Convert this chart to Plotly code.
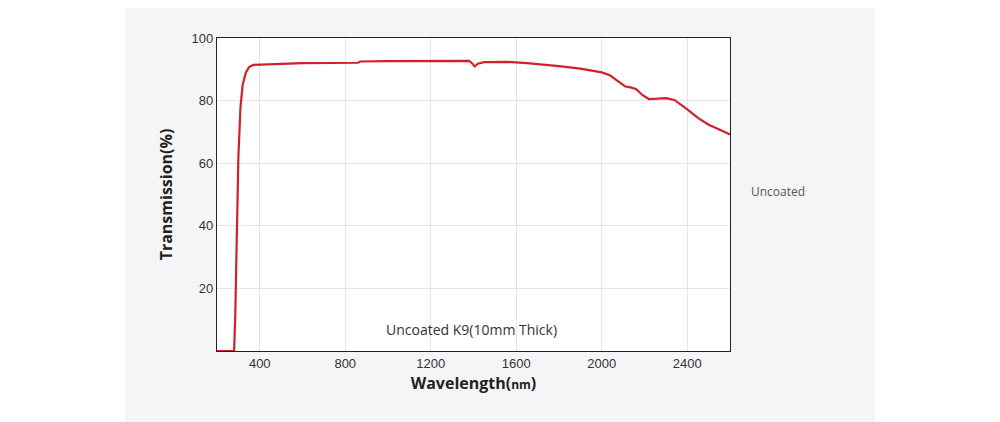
import plotly.graph_objects as go

wavelength = [200, 280, 285, 292, 300, 310, 320, 335, 350, 370, 400, 500, 600, 860, 870, 1000, 1200, 1380, 1395, 1405, 1420, 1450, 1550, 1650, 1800, 1900, 2000, 2040, 2080, 2110, 2130, 2160, 2190, 2220, 2260, 2300, 2340, 2370, 2400, 2450, 2500, 2550, 2600]
transmission = [0, 0, 10, 35, 62, 78, 85, 89, 90.7, 91.4, 91.5, 91.8, 92, 92.1, 92.5, 92.6, 92.7, 92.7, 91.8, 90.9, 91.8, 92.3, 92.4, 92.0, 91.0, 90.2, 89.0, 88.0, 86.0, 84.5, 84.3, 83.7, 81.8, 80.5, 80.6, 80.8, 80.2, 78.8, 77.2, 74.5, 72.3, 70.8, 69.2]

fig = go.Figure(go.Scatter(x=wavelength, y=transmission, mode="lines",
                           line=dict(color="#d0212a", width=2.2)))
fig.add_shape(type="rect", xref="paper", yref="paper", x0=-0.179, x1=1.283, y0=-0.5, y1=1.2,
              fillcolor="#f5f5f7", line_width=0, layer="below")
fig.add_shape(type="rect", xref="paper", yref="paper", x0=0, x1=1, y0=0, y1=1,
              fillcolor="white", line_width=0, layer="below")
fig.add_annotation(x=1390, y=7, text="Uncoated K9(10mm Thick)", showarrow=False,
                   font=dict(family="Open Sans", size=14, color="#333"))
fig.add_annotation(xref="paper", x=1.15, y=51, text="Uncoated", showarrow=False,
                   font=dict(family="Open Sans", size=12, color="#555"))
fig.update_layout(
    width=1000, height=422, paper_bgcolor="white", plot_bgcolor="white",
    margin=dict(l=209, r=278, t=30, b=79), showlegend=False,
    xaxis=dict(range=[200, 2600], tickvals=[400, 800, 1200, 1600, 2000, 2400],
               showgrid=True, gridcolor="#e6e6e6", showline=True, linecolor="#222", mirror=True,
               linewidth=1.2, ticks="", tickfont=dict(family="Arial", size=13, color="#333"),
               title=dict(text="<b>Wavelength(<span style='font-size:12px'>nm</span>)</b>",
                          font=dict(family="Open Sans", size=16, color="#222"), standoff=8)),
    yaxis=dict(range=[0, 100], tickvals=[20, 40, 60, 80, 100],
               showgrid=True, gridcolor="#e6e6e6", showline=True, linecolor="#222", mirror=True,
               linewidth=1.2, ticks="", tickfont=dict(family="Arial", size=13, color="#333"),
               title=dict(text="<b>Transmission(%)</b>",
                          font=dict(family="Open Sans", size=16, color="#222"), standoff=14)),
)
fig.write_html("out.html")
